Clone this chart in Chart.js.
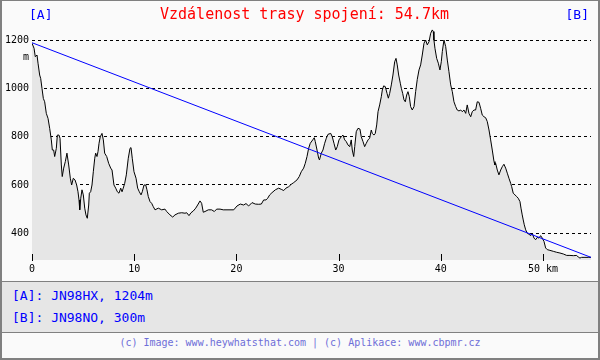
<!DOCTYPE html>
<html><head><meta charset="utf-8">
<script src="https://cdn.jsdelivr.net/npm/chart.js@4"></script>
<style>
html,body{margin:0;padding:0;background:#fafafa;}
#wrap{position:relative;width:600px;height:360px;background:#fafafa;overflow:hidden;font-family:"DejaVu Sans Mono",monospace;}
#c{position:absolute;left:0;top:0;}
.hd{position:absolute;line-height:16px;white-space:pre;}
#lA{left:29px;top:7px;color:#0000ff;font-size:13px;}
#lB{right:11px;top:7px;color:#0000ff;font-size:13px;}
#title{left:160px;top:6px;color:#ff0000;font-size:15px;}
#panel{position:absolute;left:0;top:281px;width:600px;height:50px;background:#e6e6e6;border-top:1px solid #808080;border-bottom:1px solid #808080;}
.info{position:absolute;left:12px;color:#0000ff;font-size:13px;line-height:16px;white-space:pre;}
#foot{position:absolute;left:0;top:336px;width:600px;text-align:center;color:#6e6ed8;font-size:10px;line-height:14px;white-space:pre;}
#frame{position:absolute;left:0;top:0;width:600px;height:360px;box-sizing:border-box;border:2px solid #808080;border-top-width:1px;pointer-events:none;}
</style></head>
<body>
<div id="wrap">
<canvas id="c" width="600" height="280"></canvas>
<div class="hd" id="lA">[A]</div>
<div class="hd" id="title">Vzdálenost trasy spojení: 54.7km</div>
<div class="hd" id="lB">[B]</div>
<div id="panel"></div>
<div class="info" style="top:288px">[A]: JN98HX, 1204m</div>
<div class="info" style="top:310px">[B]: JN98NO, 300m</div>
<div id="foot">(c) Image: www.heywhatsthat.com | (c) Aplikace: www.cbpmr.cz</div>
<div id="frame"></div>
</div>
<script>
// distance along path (km)
const kms = [
0,0.20,0.32,0.49,0.59,0.75,0.85,0.98,1.11,1.24,
1.40,1.57,1.73,1.89,1.99,2.12,2.22,2.38,2.48,2.64,
2.74,2.87,2.96,3.10,3.26,3.42,3.59,3.75,3.88,4.04,
4.21,4.37,4.50,4.60,4.67,4.77,4.89,5.02,5.16,5.28,
5.41,5.55,5.61,5.74,5.87,6.00,6.14,6.23,6.36,6.46,
6.56,6.68,6.85,6.98,7.11,7.31,7.50,7.70,7.83,8.02,
8.19,8.35,8.51,8.68,8.81,8.93,9.07,9.23,9.42,9.59,
9.69,9.81,9.98,10.18,10.34,10.50,10.67,10.79,10.96,11.13,
11.25,11.38,11.55,11.71,11.87,12.04,12.36,12.69,13.01,13.18,
13.50,13.77,13.99,14.32,14.65,14.97,15.14,15.36,15.56,15.78,
16.02,16.21,16.44,16.60,16.76,16.93,17.25,17.58,17.84,18.07,
18.40,18.72,19.74,20.06,20.38,20.71,20.94,21.20,21.53,21.85,
22.18,22.44,22.67,22.90,23.06,23.26,23.48,23.81,24.14,24.39,
24.63,24.85,25.12,25.37,25.61,25.93,26.15,26.35,26.58,26.74,
26.91,27.07,27.23,27.47,27.62,27.72,27.89,28.05,28.13,28.31,
28.47,28.64,28.80,28.96,29.23,29.38,29.55,29.72,29.87,30.04,
30.26,30.43,30.60,30.75,30.92,31.09,31.24,31.34,31.48,31.58,
31.73,31.90,32.09,32.22,32.39,32.55,32.71,32.88,33.04,33.20,
33.30,33.46,33.59,33.73,33.86,34.02,34.18,34.28,34.41,34.57,
34.74,34.87,35.00,35.16,35.32,35.49,35.62,35.74,35.88,36.04,
36.14,36.27,36.40,36.53,36.66,36.79,36.92,37.05,37.21,37.38,
37.54,37.70,37.87,38.03,38.19,38.36,38.52,38.68,38.85,39.01,
39.17,39.27,39.33,39.43,39.60,39.76,39.92,40.05,40.15,40.31,
40.48,40.64,40.80,40.97,41.13,41.29,41.46,41.61,41.78,41.95,
42.10,42.27,42.44,42.59,42.76,42.93,43.08,43.25,43.41,43.57,
43.74,43.90,44.06,44.23,44.39,44.55,44.72,44.88,45.04,45.21,
45.30,45.37,45.53,45.69,45.86,46.02,46.18,46.35,46.51,46.67,
46.84,46.94,47.09,47.26,47.43,47.58,47.75,47.85,47.97,48.07,
48.17,48.31,48.46,48.63,48.80,48.95,49.12,49.28,49.44,49.61,
49.77,49.93,50.10,50.26,50.42,50.68,51.01,51.34,51.66,51.99,
52.32,52.64,52.97,53.30,53.46,53.62,53.78,54.11,54.43,54.70
];
// terrain elevation (m)
const elev = [
1188,1167,1132,1139,1105,1056,1042,1000,959,945,
897,876,835,787,745,745,718,752,807,807,
794,683,635,670,697,732,683,628,600,628,
621,600,572,538,497,545,580,559,504,476,
462,517,566,572,600,655,711,732,718,739,
773,800,814,787,732,718,690,670,662,600,
587,572,566,587,572,587,607,642,711,752,
755,711,655,628,587,572,559,572,600,600,
580,552,531,524,510,497,504,497,500,490,
476,467,476,483,485,483,485,473,485,492,
504,517,534,524,487,490,497,497,490,500,
500,497,497,513,521,517,523,513,527,521,
520,521,538,538,545,559,568,580,587,582,
577,587,593,603,610,621,635,655,670,690,
718,752,773,787,796,780,745,711,704,732,
745,773,794,810,814,800,773,745,759,787,
800,807,787,780,766,759,787,745,718,759,
821,835,832,800,780,759,773,787,794,828,
814,807,814,849,904,932,966,994,1011,1008,
980,960,980,1015,1056,1111,1125,1098,1056,1022,
1001,980,953,945,973,987,966,925,911,925,
987,1038,1077,1098,1139,1188,1201,1181,1194,1229,
1243,1236,1201,1167,1125,1105,1077,1111,1153,1201,
1174,1118,1070,1015,987,945,925,911,907,911,
904,911,897,932,897,883,904,911,911,945,
943,918,890,883,879,863,828,787,745,697,
683,690,662,642,662,676,686,670,649,628,
607,593,566,559,552,545,531,504,476,455,
435,414,400,396,390,400,380,373,383,380,
390,380,366,339,332,329,325,321,318,314,
308,308,307,308,301,297,300,300,300,300
];
// straight line of sight A -> B
const losKm = [0, 54.7];
const losElev = [1190, 300];
const xTicks = [0, 10, 20, 30, 40, 50];
const xTickLabels = ['0', '10', '20', '30', '40', '50 km'];
const yTicks = [400, 600, 800, 1000, 1200];
const yTickLabels = ['400', '600', '800', '1000', '1200'];
const yUnit = 'm';

const FONT = '"DejaVu Sans Mono", monospace';

const extras = {
  id: 'extras',
  afterDraw(chart) {
    const {ctx, chartArea, scales: {x, y}} = chart;
    ctx.save();
    ctx.strokeStyle = '#000';
    ctx.lineWidth = 1;
    xTicks.forEach(v => {
      const px = Math.round(x.getPixelForValue(v)) + 0.5;
      ctx.beginPath();
      ctx.moveTo(px, chartArea.bottom - 6);
      ctx.lineTo(px, chartArea.bottom + 1);
      ctx.stroke();
    });
    ctx.fillStyle = '#000';
    ctx.font = '10px ' + FONT;
    ctx.textAlign = 'right';
    ctx.textBaseline = 'middle';
    ctx.fillText(yUnit, y.right - 3, y.getPixelForValue(yTicks[yTicks.length - 1]) + 17);
    ctx.restore();
  }
};

new Chart(document.getElementById('c'), {
  type: 'line',
  data: {
    datasets: [
      {
        data: losKm.map((k, i) => ({x: k, y: losElev[i]})),
        borderColor: '#0000ff', borderWidth: 1, pointRadius: 0, fill: false, tension: 0
      },
      {
        data: kms.map((k, i) => ({x: k, y: elev[i]})),
        borderColor: '#000000', borderWidth: 1, pointRadius: 0,
        backgroundColor: '#e6e6e6', fill: 'start', tension: 0
      }
    ]
  },
  options: {
    responsive: false,
    devicePixelRatio: 1,
    animation: false,
    events: [],
    layout: {padding: {left: 0, top: 28, right: 9, bottom: 0}},
    plugins: {legend: {display: false}, tooltip: {enabled: false}, title: {display: false}},
    scales: {
      x: {
        type: 'linear', min: 0, max: 54.7,
        afterBuildTicks: s => { s.ticks = xTicks.map(v => ({value: v})); },
        afterFit: s => { s.height = 20; },
        grid: {display: false, drawTicks: false},
        border: {display: false},
        ticks: {
          autoSkip: false, maxRotation: 0, padding: 3,
          color: '#000', font: {family: FONT, size: 10},
          callback: (v) => { const i = xTicks.indexOf(v); return i >= 0 ? xTickLabels[i] : ''; }
        }
      },
      y: {
        type: 'linear', min: 289, max: 1251,
        z: 1,
        afterBuildTicks: s => { s.ticks = yTicks.map(v => ({value: v})); },
        afterFit: s => { s.width = 32; },
        grid: {color: '#000', lineWidth: 1, drawTicks: false},
        border: {display: false, dash: [3, 3]},
        ticks: {
          autoSkip: false, padding: 3,
          color: '#000', font: {family: FONT, size: 10},
          callback: (v) => { const i = yTicks.indexOf(v); return i >= 0 ? yTickLabels[i] : ''; }
        }
      }
    }
  },
  plugins: [extras]
});
</script>
</body></html>
